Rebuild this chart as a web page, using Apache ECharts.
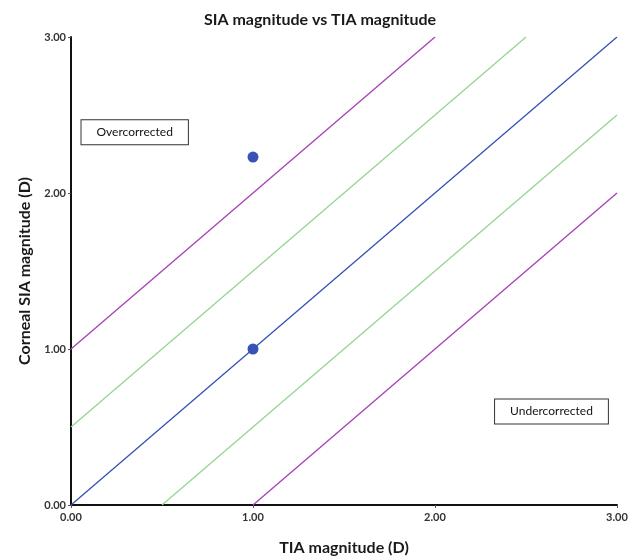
<!DOCTYPE html>
<html>
<head>
    <meta charset="utf-8">
    <script type="text/javascript" src="https://cdn.jsdelivr.net/npm/echarts@6/dist/echarts.min.js"></script>
    <title>SIA magnitude vs TIA magnitude</title>
</head>
<body style="margin:0">
    <div id="container" style="width:640px;height:557px;"></div>
    <script type="text/javascript">
    // 数据
    var tiaValues = [1.00, 1.00];
    var siaValues = [1.00, 2.23];

    var linePlus1 = [[0, 1], [2, 3]];
    var linePlus05 = [[0, 0.5], [2.5, 3]];
    var lineEqual = [[0, 0], [3, 3]];
    var lineMinus05 = [[0.5, 0], [3, 2.5]];
    var lineMinus1 = [[1, 0], [3, 2]];

    var zoneLabels = [
        { name: 'Overcorrected', value: [0.35, 2.39] },
        { name: 'Undercorrected', value: [2.64, 0.60] }
    ];

    var font = 'Lato, "DejaVu Sans", sans-serif';
    var purple = '#a53fb3';
    var green = '#92d68e';
    var blue = '#3450b4';

    function refLine(data, color) {
        return {
            type: 'line', data: data, symbol: 'none', silent: true,
            lineStyle: { color: color, width: 1.3 }, z: 2
        };
    }

    var myChart = echarts.init(document.getElementById('container'));

    var option = {
        animation: false,
        title: {
            text: 'SIA magnitude vs TIA magnitude',
            left: 'center', top: 7,
            textStyle: { fontFamily: font, fontSize: 16, fontWeight: 'bold', color: '#1a1a1a' }
        },
        grid: { left: 71, right: 23, top: 37, bottom: 52, outerBoundsMode: 'none', containLabel: false },
        xAxis: {
            type: 'value', min: 0, max: 3, interval: 1,
            name: 'TIA magnitude (D)', nameLocation: 'middle', nameGap: 35,
            nameTextStyle: { fontFamily: font, fontSize: 16, fontWeight: 'bold', color: '#1a1a1a' },
            axisLine: { lineStyle: { color: '#111', width: 2 } },
            axisTick: { show: true, length: 3, lineStyle: { color: '#555' } },
            axisLabel: {
                formatter: function (v) { return v.toFixed(2); },
                fontFamily: font, fontSize: 11, fontWeight: 'bold', color: '#333', margin: 7
            },
            splitLine: { show: false }
        },
        yAxis: {
            type: 'value', min: 0, max: 3, interval: 1,
            name: 'Corneal SIA magnitude (D)', nameLocation: 'middle', nameGap: 38,
            nameTextStyle: { fontFamily: font, fontSize: 16, fontWeight: 'bold', color: '#1a1a1a' },
            axisLine: { show: true, lineStyle: { color: '#111', width: 2 } },
            axisTick: { show: true, length: 3, lineStyle: { color: '#555' } },
            axisLabel: {
                formatter: function (v) { return v.toFixed(2); },
                fontFamily: font, fontSize: 11, fontWeight: 'bold', color: '#333', margin: 5
            },
            splitLine: { show: false }
        },
        series: [
            refLine(linePlus1, purple),
            refLine(linePlus05, green),
            refLine(lineEqual, blue),
            refLine(lineMinus05, green),
            refLine(lineMinus1, purple),
            {
                type: 'scatter', symbolSize: 11, z: 5,
                itemStyle: { color: '#3652b8', opacity: 1 },
                data: tiaValues.map(function (x, i) { return [x, siaValues[i]]; })
            },
            {
                type: 'scatter', symbolSize: 0, silent: true, z: 6,
                itemStyle: { opacity: 1 },
                data: zoneLabels,
                label: {
                    show: true, position: 'inside',
                    formatter: '{b}',
                    fontFamily: font, fontSize: 12, color: '#111',
                    backgroundColor: '#fff', borderColor: '#333', borderWidth: 1,
                    padding: [6, 15, 6, 15]
                }
            }
        ]
    };

    myChart.setOption(option);
    </script>
</body>
</html>
